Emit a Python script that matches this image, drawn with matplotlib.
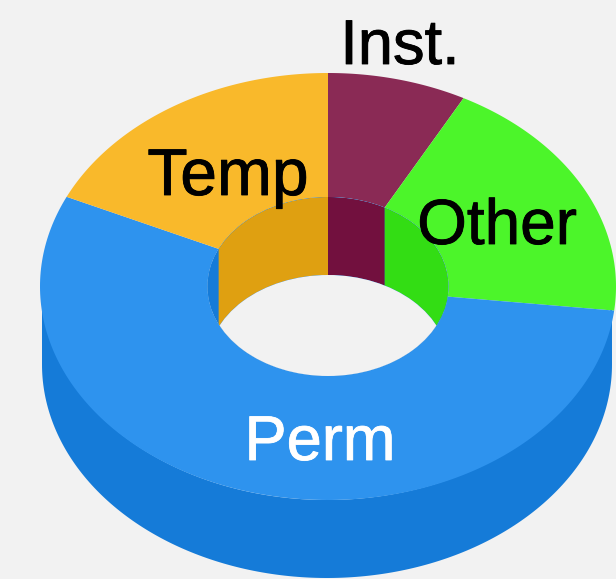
import numpy as np
import matplotlib
matplotlib.use('Agg')
import matplotlib.pyplot as plt
from matplotlib.patches import Ellipse
import matplotlib.patheffects as pe

# slices, clockwise from 12 o'clock
labels = ['Inst.', 'Other', 'Perm', 'Temp']
values = [7.8, 19.0, 55.1, 18.1]

top_colors = ['#8a2a55', '#4cf52a', '#2e93ee', '#f9b92b']
wall_colors = ['#72103e', '#33dd14', '#157bd8', '#dfa011']
back_color = '#f2f2f2'

# geometry in pixels of the figure
cx, cy = 328, 286.5
rx_out, ry_out = 288, 213.5
rx_in, ry_in = 120.5, 89.5
depth = 78


def arc(rx, ry, a0, a1, dx=0, dy=0):
    # angle is clockwise from the top
    t = np.linspace(a0, a1, 200)
    return cx + dx + rx * np.sin(t), cy + dy - ry * np.cos(t)


def put_label(x, y, text, color, size):
    t = ax.text(x, y, text, color=color, family='Liberation Sans', fontsize=size,
                ha='center', va='baseline', zorder=6)
    t.set_path_effects([pe.withStroke(linewidth=0.6, foreground=color)])


fig = plt.figure(figsize=(6.16, 5.79), dpi=100, facecolor=back_color)
ax = fig.add_axes([0, 0, 1, 1])
ax.set_xlim(0, 616)
ax.set_ylim(579, 0)
ax.axis('off')

edges = np.concatenate([[0], np.cumsum(values)]) / np.sum(values) * 2 * np.pi

# outer wall, only the front is visible and it all belongs to Perm
x0, y0 = arc(rx_out - 3, ry_out, np.pi / 2, 3 * np.pi / 2, dx=-1)
x1, y1 = arc(rx_out - 3, ry_out, np.pi / 2, 3 * np.pi / 2, dx=-1, dy=depth)
ax.fill(np.r_[x0, x1[::-1]], np.r_[y0, y1[::-1]], color=wall_colors[2], lw=0, zorder=1)

# top surface
for i in range(len(values)):
    xo, yo = arc(rx_out, ry_out, edges[i], edges[i + 1])
    xi, yi = arc(rx_in, ry_in, edges[i + 1], edges[i])
    ax.fill(np.r_[xo, xi], np.r_[yo, yi], color=top_colors[i], lw=0, zorder=2)

# hole, the walls are clipped to the upper rim
hole = Ellipse((cx, cy), 2 * rx_in, 2 * ry_in, fc=wall_colors[2], ec='none', zorder=3)
ax.add_patch(hole)

for i in range(len(values)):
    xt, yt = arc(rx_in, ry_in, edges[i], edges[i + 1])
    xb, yb = arc(rx_in, ry_in, edges[i], edges[i + 1], dy=depth)
    wall = ax.fill(np.r_[xt, xb[::-1]], np.r_[yt, yb[::-1]], color=wall_colors[i], lw=0, zorder=4)[0]
    wall.set_clip_path(hole)

# Perm would also cover the front of the hole, so the floor goes over the walls
floor = Ellipse((cx, cy + depth), 2 * rx_in, 2 * ry_in, fc=back_color, ec='none', zorder=5)
ax.add_patch(floor)
floor.set_clip_path(hole)

put_label(400, 64, labels[0], 'black', 45.5)
put_label(497, 244, labels[1], 'black', 46)
put_label(320, 460, labels[2], 'white', 45.5)
put_label(228, 195, labels[3], 'black', 47.5)

fig.savefig('out.png', dpi=100, facecolor=back_color)
